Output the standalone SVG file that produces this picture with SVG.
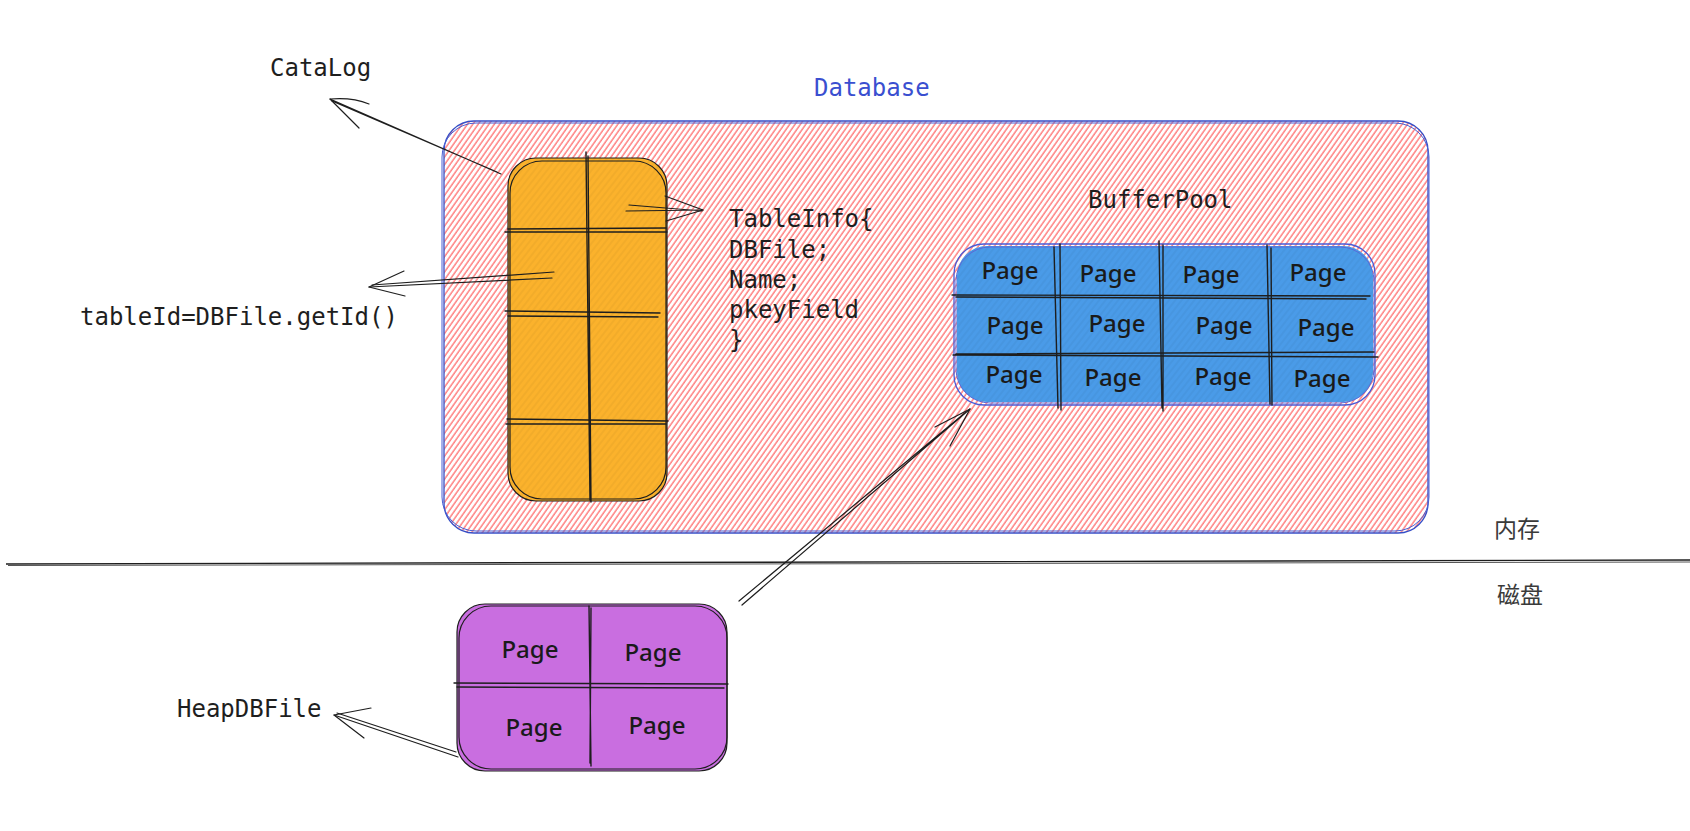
<svg xmlns="http://www.w3.org/2000/svg" width="1690" height="831" viewBox="0 0 1690 831">
  <defs>
    <pattern id="hatch" patternUnits="userSpaceOnUse" width="4.4" height="40" patternTransform="rotate(35)">
      <line x1="1" y1="0" x2="1" y2="40" stroke="#ff7d7d" stroke-width="1.45"/>
    </pattern>
    <pattern id="tex" patternUnits="userSpaceOnUse" width="5" height="40" patternTransform="rotate(38)">
      <line x1="1" y1="0" x2="1" y2="40" stroke="#000000" stroke-opacity="0.07" stroke-width="1"/>
    </pattern>
    <style>
      .mono { font-family: "DejaVu Sans Mono", "Liberation Mono", monospace; font-size: 24px; fill: #1e1e1e; }
      .page { font-family: "Noto Sans", "Open Sans", sans-serif; font-size: 24px; font-weight: 500; fill: #1a1a1a; text-anchor: middle; }
      .cjk { font-family: "Noto Sans CJK SC", sans-serif; font-size: 23px; fill: #3a3a3a; }
      .ink { fill: none; stroke: #1e1e1e; stroke-width: 1.2; stroke-linecap: round; stroke-linejoin: round; }
      .grid { fill: none; stroke: #1e1e1e; stroke-width: 1.4; stroke-linecap: round; }
    </style>
  </defs>

  <rect width="1690" height="831" fill="#ffffff"/>

  <!-- Database container -->
  <g id="database">
    <rect x="444" y="121" width="984" height="412" rx="30" fill="url(#hatch)"/>
    <rect x="444" y="121" width="984" height="412" rx="30" fill="none" stroke="#364fc7" stroke-width="1.3"/>
    <rect x="442" y="123" width="987" height="408" rx="34" fill="none" stroke="#4a5fd4" stroke-width="1"/>
    <text x="814" y="96" class="mono" style="fill:#3a4fd0">Database</text>
  </g>

  <!-- CataLog table -->
  <g id="catalog">
    <rect x="508" y="158" width="159" height="343" rx="28" fill="#fbb22c"/>
    <rect x="508" y="158" width="159" height="343" rx="28" fill="url(#tex)"/>
    <rect x="508" y="158" width="159" height="343" rx="28" class="ink"/>
    <rect x="510" y="161" width="156" height="338" rx="32" class="ink" stroke-width="0.9"/>
    <path class="grid" d="M586 152 L590 500 M588 156 L591 502"/>
    <path class="grid" d="M508 229 L666 228 M505 232 L667 232"/>
    <path class="grid" d="M505 311 L660 313 M508 316 L658 317"/>
    <path class="grid" d="M507 419 L668 421 M506 424 L666 424"/>
  </g>

  <!-- BufferPool -->
  <g id="bufferpool">
    <text x="1088" y="208" class="mono">BufferPool</text>
    <rect x="957" y="246" width="416" height="156" rx="30" fill="#4a9be8"/>
    <rect x="957" y="246" width="416" height="156" rx="30" fill="url(#tex)"/>
    <rect x="954" y="244" width="421" height="161" rx="30" fill="none" stroke="#4a5bd6" stroke-width="1.3"/>
    <rect x="956" y="247" width="418" height="156" rx="34" fill="none" stroke="#5a6ad8" stroke-width="1"/>
    <path class="grid" d="M952 295 L1370 296 M956 297 L1366 299"/>
    <path class="grid" d="M953 355 L1378 357 M956 354 L1374 352"/>
    <path class="grid" d="M1054 247 L1058 408 M1060 244 L1061 410"/>
    <path class="grid" d="M1159 241 L1162 408 M1163 245 L1163 411"/>
    <path class="grid" d="M1267 245 L1270 404 M1271 248 L1272 405"/>
    <text x="1010" y="279" class="page">Page</text>
    <text x="1108" y="282" class="page">Page</text>
    <text x="1211" y="283" class="page">Page</text>
    <text x="1318" y="281" class="page">Page</text>
    <text x="1015" y="334" class="page">Page</text>
    <text x="1117" y="332" class="page">Page</text>
    <text x="1224" y="334" class="page">Page</text>
    <text x="1326" y="336" class="page">Page</text>
    <text x="1014" y="383" class="page">Page</text>
    <text x="1113" y="386" class="page">Page</text>
    <text x="1223" y="385" class="page">Page</text>
    <text x="1322" y="387" class="page">Page</text>
  </g>

  <!-- HeapDBFile on disk -->
  <g id="heapdbfile">
    <rect x="457" y="604" width="270" height="167" rx="28" fill="#c96ee0"/>
    <rect x="457" y="604" width="270" height="167" rx="28" class="ink"/>
    <rect x="459" y="606" width="268" height="163" rx="32" class="ink" stroke-width="0.9"/>
    <path class="grid" d="M589 606 L591 766 M591 608 L590 763"/>
    <path class="grid" d="M454 683 L728 684 M457 687 L724 688"/>
    <text x="530" y="658" class="page">Page</text>
    <text x="653" y="661" class="page">Page</text>
    <text x="534" y="736" class="page">Page</text>
    <text x="657" y="734" class="page">Page</text>
  </g>

  <!-- Labels -->
  <g id="labels">
    <text x="270" y="76" class="mono">CataLog</text>
    <text x="729" y="227" class="mono">TableInfo{</text>
    <text x="729" y="258" class="mono">DBFile;</text>
    <text x="729" y="288" class="mono">Name;</text>
    <text x="729" y="318" class="mono">pkeyField</text>
    <text x="729" y="348" class="mono">}</text>
    <text x="80" y="325" class="mono">tableId=DBFile.getId()</text>
    <text x="177" y="717" class="mono">HeapDBFile</text>
    <text x="1494" y="537" class="cjk">内存</text>
    <text x="1497" y="603" class="cjk">磁盘</text>
  </g>

  <!-- Memory / disk divider -->
  <g id="divider">
    <path d="M6 564 L1690 560" stroke="#1e1e1e" stroke-width="1.4" fill="none"/>
    <path d="M8 565.5 L1690 562" stroke="#555" stroke-width="1" fill="none"/>
  </g>

  <!-- Connectors -->
  <g id="connectors" class="ink">
    <path class="ink" d="M501 174 L330 99 M497 172 L332 101"/>
    <path class="ink" d="M369 104 Q352 97 330 99 L359 128"/>
    <path class="ink" d="M626 211 L703 210 M629 205 L702 211"/>
    <path class="ink" d="M665 196 L703 210 L666 221"/>
    <path class="ink" d="M552 278 L369 287 M554 272 L372 285"/>
    <path class="ink" d="M404 271 L369 287 L405 296"/>
    <path class="ink" d="M742 605 L970 409 M739 601 L966 412"/>
    <path class="ink" d="M935 427 L970 409 L950 446"/>
    <path class="ink" d="M458 757 L334 715 M456 752 L337 713"/>
    <path class="ink" d="M371 708 L334 715 L364 738"/>
  </g>
</svg>
